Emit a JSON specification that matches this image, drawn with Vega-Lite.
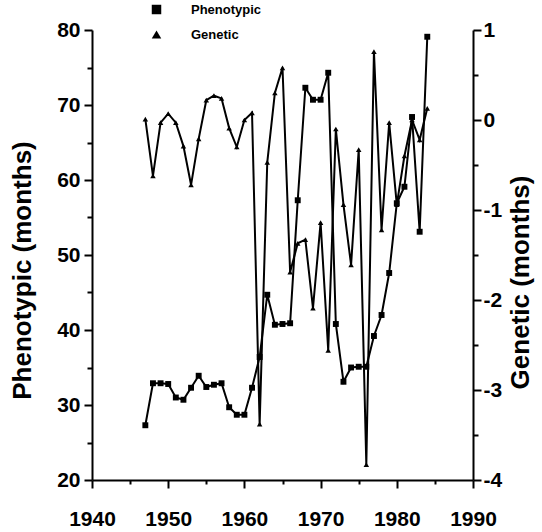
{
  "$schema": "https://vega.github.io/schema/vega-lite/v6.json",
  "autosize": {"type": "none"},
  "padding": {"left": 92, "top": 30, "right": 69, "bottom": 52},
  "width": 381,
  "height": 450,
  "background": "white",
  "data": {"values": [
    {"year": 1947, "phenotypic": 27.3, "genetic": 0.01},
    {"year": 1948, "phenotypic": 32.9, "genetic": -0.62},
    {"year": 1949, "phenotypic": 32.9, "genetic": -0.03},
    {"year": 1950, "phenotypic": 32.8, "genetic": 0.07},
    {"year": 1951, "phenotypic": 31.0, "genetic": -0.03},
    {"year": 1952, "phenotypic": 30.7, "genetic": -0.29},
    {"year": 1953, "phenotypic": 32.3, "genetic": -0.72},
    {"year": 1954, "phenotypic": 33.9, "genetic": -0.21},
    {"year": 1955, "phenotypic": 32.4, "genetic": 0.22},
    {"year": 1956, "phenotypic": 32.7, "genetic": 0.27},
    {"year": 1957, "phenotypic": 32.9, "genetic": 0.24},
    {"year": 1958, "phenotypic": 29.7, "genetic": -0.09},
    {"year": 1959, "phenotypic": 28.7, "genetic": -0.3},
    {"year": 1960, "phenotypic": 28.7, "genetic": 0.0},
    {"year": 1961, "phenotypic": 32.3, "genetic": 0.08},
    {"year": 1962, "phenotypic": 36.4, "genetic": -3.38},
    {"year": 1963, "phenotypic": 44.7, "genetic": -0.47},
    {"year": 1964, "phenotypic": 40.7, "genetic": 0.3},
    {"year": 1965, "phenotypic": 40.8, "genetic": 0.58},
    {"year": 1966, "phenotypic": 40.9, "genetic": -1.69},
    {"year": 1967, "phenotypic": 57.3, "genetic": -1.37},
    {"year": 1968, "phenotypic": 72.3, "genetic": -1.33},
    {"year": 1969, "phenotypic": 70.7, "genetic": -2.09},
    {"year": 1970, "phenotypic": 70.7, "genetic": -1.14},
    {"year": 1971, "phenotypic": 74.3, "genetic": -2.56},
    {"year": 1972, "phenotypic": 40.8, "genetic": -0.1},
    {"year": 1973, "phenotypic": 33.1, "genetic": -0.94},
    {"year": 1974, "phenotypic": 35.0, "genetic": -1.61},
    {"year": 1975, "phenotypic": 35.1, "genetic": -0.33},
    {"year": 1976, "phenotypic": 35.1, "genetic": -3.83},
    {"year": 1977, "phenotypic": 39.2, "genetic": 0.76},
    {"year": 1978, "phenotypic": 42.0, "genetic": -1.22},
    {"year": 1979, "phenotypic": 47.6, "genetic": -0.03},
    {"year": 1980, "phenotypic": 56.9, "genetic": -0.94},
    {"year": 1981, "phenotypic": 59.1, "genetic": -0.4},
    {"year": 1982, "phenotypic": 68.4, "genetic": 0.0},
    {"year": 1983, "phenotypic": 53.1, "genetic": -0.22},
    {"year": 1984, "phenotypic": 79.1, "genetic": 0.13}
  ]},
  "encoding": {
    "x": {
      "field": "year", "type": "quantitative",
      "scale": {"domain": [1940, 1990], "nice": false, "zero": false},
      "axis": {
        "title": null,
        "values": [1940, 1945, 1950, 1955, 1960, 1965, 1970, 1975, 1980, 1985, 1990],
        "format": "d",
        "labelExpr": "datum.value % 10 == 0 ? datum.label : ''",
        "tickSize": {"condition": {"test": "datum.value % 10 != 0", "value": 4}, "value": 8},
        "labelPadding": 20,
        "labelFlush": false
      }
    }
  },
  "layer": [
    {
      "encoding": {
        "y": {
          "field": "phenotypic", "type": "quantitative",
          "scale": {"domain": [20, 80], "nice": false, "zero": false},
          "axis": {
            "title": "Phenotypic (months)",
            "orient": "left",
            "values": [20, 25, 30, 35, 40, 45, 50, 55, 60, 65, 70, 75, 80],
            "labelExpr": "datum.value % 10 == 0 ? datum.label : ''",
            "tickSize": {"condition": {"test": "datum.value % 10 != 0", "value": 5}, "value": 8},
            "labelPadding": 4,
            "titlePadding": 21,
            "titleY": 240,
            "labelFlush": false
          }
        }
      },
      "layer": [
        {"mark": {"type": "line", "color": "black", "strokeWidth": 2}},
        {"mark": {"type": "point", "filled": true, "color": "black", "opacity": 1, "size": 35},
         "encoding": {"shape": {"datum": "Phenotypic", "type": "nominal", "scale": {"domain": ["Phenotypic", "Genetic"], "range": ["square", "triangle-up"]}}}}
      ]
    },
    {
      "encoding": {
        "y": {
          "field": "genetic", "type": "quantitative",
          "scale": {"domain": [-4, 1], "nice": false, "zero": false},
          "axis": {
            "title": "Genetic (months)",
            "orient": "right",
            "values": [-4, -3.5, -3, -2.5, -2, -1.5, -1, -0.5, 0, 0.5, 1],
            "labelExpr": "datum.value % 1 == 0 ? '' + datum.value : ''",
            "tickSize": {"condition": {"test": "datum.value % 1 != 0", "value": 5}, "value": 8},
            "labelPadding": 2,
            "titlePadding": 6,
            "titleAngle": 270,
            "titleBaseline": "top",
            "titleY": 252,
            "labelFlush": false
          }
        }
      },
      "layer": [
        {"mark": {"type": "line", "color": "black", "strokeWidth": 2}},
        {"mark": {"type": "point", "filled": true, "color": "black", "opacity": 1, "size": 30},
         "encoding": {"shape": {"datum": "Genetic", "type": "nominal"}}}
      ]
    }
  ],
  "resolve": {"scale": {"y": "independent"}},
  "config": {
    "view": {"stroke": null},
    "axis": {
      "grid": false,
      "domainColor": "black", "domainWidth": 2,
      "tickColor": "black", "tickWidth": 2,
      "labelFont": "Liberation Sans", "labelFontWeight": "bold", "labelFontSize": 21, "labelColor": "black",
      "titleFont": "Liberation Sans", "titleFontWeight": "bold", "titleFontSize": 26, "titleColor": "black"
    },
    "legend": {
      "orient": "none", "legendX": 58, "legendY": -27,
      "title": null, "padding": 0,
      "labelFont": "Liberation Sans", "labelFontWeight": "bold", "labelFontSize": 13, "labelColor": "black",
      "symbolSize": 90, "symbolFillColor": "black", "symbolStrokeColor": "black",
      "labelOffset": 28, "rowPadding": 9
    }
  }
}
